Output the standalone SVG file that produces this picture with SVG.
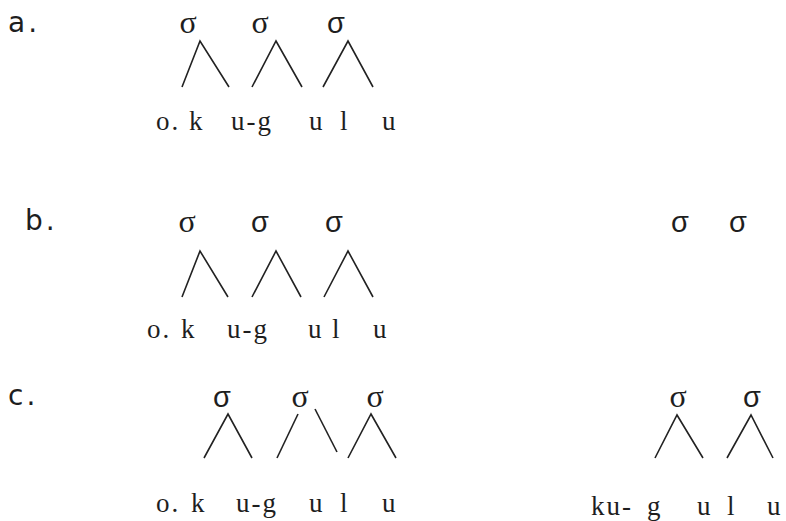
<svg xmlns="http://www.w3.org/2000/svg" width="786" height="521" viewBox="0 0 786 521">
<style>
.lbl{font-family:"DejaVu Sans","Liberation Sans",sans-serif;font-size:28px;fill:#1e1e1e;letter-spacing:3px}
.seg{font-family:"Liberation Serif","Times New Roman",serif;font-size:27px;fill:#1e1e1e;letter-spacing:2px}
.sg{font-family:"Liberation Serif",serif;font-size:32px;fill:#1e1e1e;text-anchor:middle}
.sgb{font-family:"Liberation Sans","DejaVu Sans",sans-serif;font-size:29px;fill:#1e1e1e;text-anchor:middle}
.ln{stroke:#222;stroke-width:1.6;fill:none}
</style>
<rect width="786" height="521" fill="#fff"/>
<g id="panel-a">
<text class="lbl" x="8" y="32">a.</text>
<text class="sg" x="188" y="33">σ</text>
<text class="sg" x="260" y="33">σ</text>
<text class="sgb" x="336" y="33">σ</text>
<text class="seg" x="156" y="130">o.</text>
<text class="seg" x="189" y="130">k</text>
<text class="seg" x="231" y="130">u-g</text>
<text class="seg" x="309" y="130">u</text>
<text class="seg" x="340" y="130">l</text>
<text class="seg" x="382" y="130">u</text>
</g>
<g id="panel-b">
<text class="lbl" x="25" y="230">b.</text>
<text class="sg" x="187" y="232">σ</text>
<text class="sgb" x="260" y="232">σ</text>
<text class="sgb" x="334" y="232">σ</text>
<text class="sgb" x="680" y="232">σ</text>
<text class="sgb" x="738" y="232">σ</text>
<text class="seg" x="147" y="338">o.</text>
<text class="seg" x="181" y="338">k</text>
<text class="seg" x="227" y="338">u-g</text>
<text class="seg" x="308" y="338">u</text>
<text class="seg" x="332" y="338">l</text>
<text class="seg" x="373" y="338">u</text>
</g>
<g id="panel-c">
<text class="lbl" x="8" y="405">c.</text>
<text class="sgb" x="222" y="407">σ</text>
<text class="sg" x="300" y="407">σ</text>
<text class="sg" x="375" y="407">σ</text>
<text class="sg" x="678" y="407">σ</text>
<text class="sgb" x="752" y="407">σ</text>
<text class="seg" x="156" y="512">o.</text>
<text class="seg" x="191" y="512">k</text>
<text class="seg" x="236" y="512">u-g</text>
<text class="seg" x="309" y="512">u</text>
<text class="seg" x="340" y="512">l</text>
<text class="seg" x="382" y="512">u</text>
<text class="seg" x="591" y="515">ku-</text>
<text class="seg" x="647" y="515">g</text>
<text class="seg" x="697" y="515">u</text>
<text class="seg" x="727" y="515">l</text>
<text class="seg" x="767" y="515">u</text>
</g>
<g id="connectors">
<polyline class="ln" points="182,87 200,41 229,87"/>
<polyline class="ln" points="252,87 276,41 302,87"/>
<polyline class="ln" points="323,87 348,41 373,87"/>
<polyline class="ln" points="182,297 200,251 228,297"/>
<polyline class="ln" points="252,297 276,251 301,297"/>
<polyline class="ln" points="324,297 348,251 373,297"/>
<polyline class="ln" points="204,458 228,414 252,458"/>
<line class="ln" x1="277" y1="458" x2="298" y2="414"/>
<line class="ln" x1="315" y1="409" x2="337" y2="452" stroke="#555"/>
<polyline class="ln" points="348,458 371,414 396,458"/>
<polyline class="ln" points="655,458 677,415 703,458"/>
<polyline class="ln" points="727,458 751,415 773,458"/>
</g>
</svg>
